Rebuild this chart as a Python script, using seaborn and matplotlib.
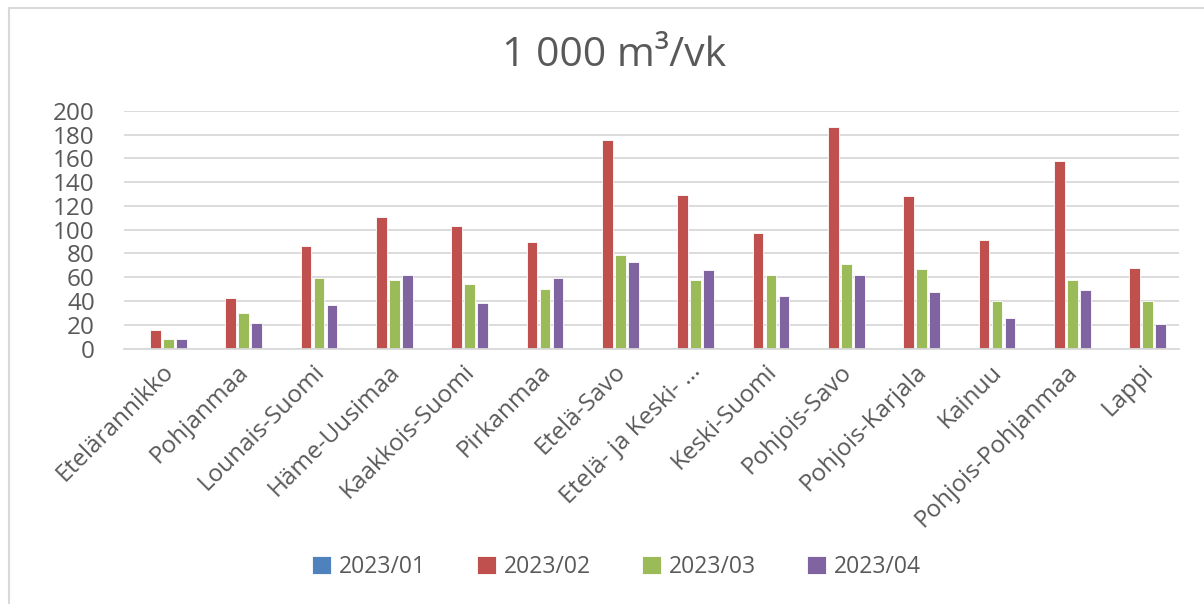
import pandas as pd
import matplotlib
matplotlib.use('Agg')
import matplotlib.pyplot as plt
import seaborn as sns
from matplotlib.patches import Rectangle

# data (1 000 m3 per week)
regions = ['Etelärannikko', 'Pohjanmaa', 'Lounais-Suomi', 'Häme-Uusimaa', 'Kaakkois-Suomi',
           'Pirkanmaa', 'Etelä-Savo', 'Etelä- ja Keski- …', 'Keski-Suomi', 'Pohjois-Savo',
           'Pohjois-Karjala', 'Kainuu', 'Pohjois-Pohjanmaa', 'Lappi']
periods = ['2023/01', '2023/02', '2023/03', '2023/04']
vals_01 = [0, 0, 0, 0, 0, 0, 0, 0, 0, 0, 0, 0, 0, 0]
vals_02 = [16, 43, 86, 111, 103, 90, 175, 129, 97, 186, 128, 91, 158, 68]
vals_03 = [8, 30, 59, 58, 54, 50, 79, 58, 62, 71, 67, 40, 58, 40]
vals_04 = [8, 22, 37, 62, 38, 59, 73, 66, 44, 62, 48, 26, 49, 21]
colors = ['#4F81BD', '#C0504D', '#9BBB59', '#8064A2']

df = pd.DataFrame({'region': regions, '2023/01': vals_01, '2023/02': vals_02,
                   '2023/03': vals_03, '2023/04': vals_04})
df = df.melt(id_vars='region', var_name='period', value_name='value')

sns.set_style('white')
plt.rcParams['font.family'] = ['Open Sans', 'DejaVu Sans']
txt = '#595959'
grid = '#d9d9d9'

fig = plt.figure(figsize=(12.04, 6.04), dpi=100)
ax = fig.add_axes([0.103, 0.4227, 0.876, 0.3940])

sns.barplot(data=df, x='region', y='value', hue='period', hue_order=periods,
            palette=colors, saturation=1, order=regions, width=0.69, gap=0.18,
            edgecolor='white', linewidth=0.6, ax=ax)

ax.set_ylim(0, 200)
ax.set_yticks(range(0, 201, 20))
ax.set_xlim(-0.5, len(regions) - 0.5)
ax.yaxis.grid(True, color=grid, linewidth=1.3)
ax.set_axisbelow(True)
for s in ['top', 'right', 'left']:
    ax.spines[s].set_visible(False)
ax.spines['bottom'].set_color(grid)
ax.spines['bottom'].set_linewidth(1.3)
ax.tick_params(axis='both', length=0, labelcolor=txt, labelsize=17.5)
ax.tick_params(axis='y', pad=21)
ax.tick_params(axis='x', pad=8)
ax.set_xlabel('')
ax.set_ylabel('')
for lab in ax.get_xticklabels():
    lab.set_rotation(45)
    lab.set_ha('right')
    lab.set_rotation_mode('anchor')
    lab.set_fontsize(17.5)

handles, labels = ax.get_legend_handles_labels()
ax.get_legend().remove()
fig.legend(handles, labels, loc='center', bbox_to_anchor=(0.512, 0.061), ncol=4,
           frameon=False, fontsize=16.5, labelcolor=txt, handlelength=0.8,
           handleheight=0.8, handletextpad=0.35, columnspacing=2.25)

fig.text(0.51, 0.908, '1 000 m³/vk', ha='center', va='center', fontsize=29.5, color=txt)

# chart area border
fig.patches.append(Rectangle((9 / 1204, -0.05), 1.2, 1 - 8 / 604 + 0.05,
                             transform=fig.transFigure, fill=False,
                             edgecolor=grid, linewidth=1.5))

fig.savefig('out.png', dpi=100)
